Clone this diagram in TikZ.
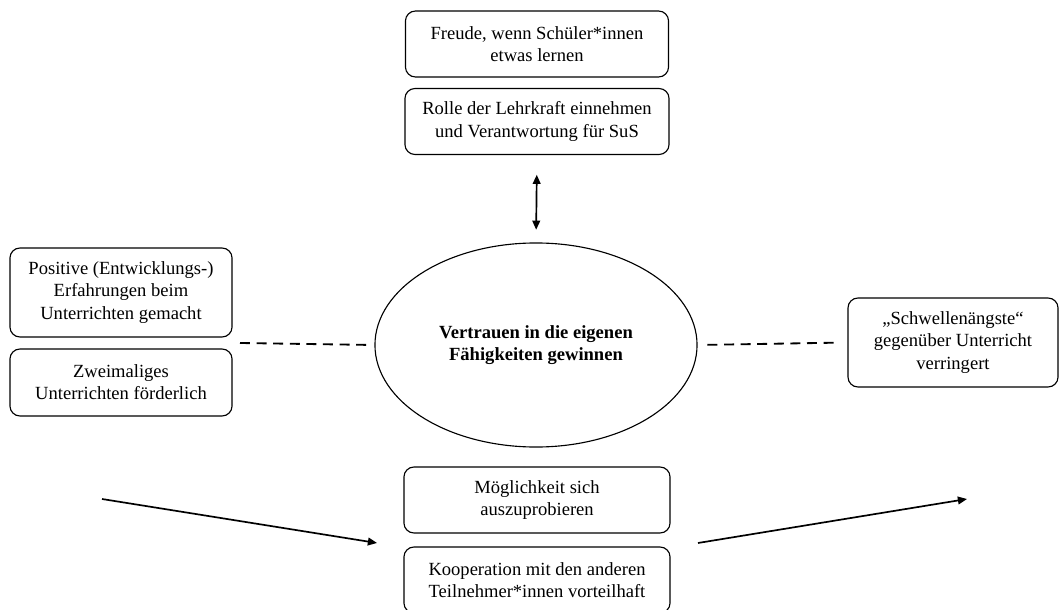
\documentclass[tikz,border=0pt]{standalone}
\usepackage{fontspec}
\setmainfont{Liberation Serif}
\usetikzlibrary{arrows.meta}
\usetikzlibrary{shapes.geometric}

\begin{document}
\begin{tikzpicture}[x=0.025cm,y=-0.025cm,
  font=\fontsize{13.2}{15.8}\selectfont,
  kasten/.style={draw, rounded corners=0.25cm, align=center, line width=0.8pt, inner sep=0pt},
  kern/.style={draw, ellipse, align=center, line width=0.8pt, minimum width=8.05cm, minimum height=5.1cm, inner sep=0pt, font=\fontsize{13.2}{15.8}\selectfont\bfseries},
  strich/.style={dash pattern=on 7.1pt off 4.7pt, line width=1.3pt},
  pfeil/.style={-{Triangle[length=6.5pt,width=5.5pt]}, line width=1.2pt}]

\useasboundingbox (0,0) rectangle (1060,610);

% oben
\node[kasten, minimum width=6.575cm, minimum height=1.65cm] (freude) at (537,44) {Freude, wenn Schüler*innen\\etwas lernen};
\node[kasten, minimum width=6.6cm, minimum height=1.65cm] (rolle) at (537,121.5) {Rolle der Lehrkraft einnehmen\\und Verantwortung für SuS};

% mitte
\node[kern] (vertrauen) at (536,345) {Vertrauen in die eigenen\\Fähigkeiten gewinnen};

% links
\node[kasten, minimum width=5.55cm, minimum height=2.225cm] (positiv) at (121,292.5) {Positive (Entwicklungs-)\\Erfahrungen beim\\Unterrichten gemacht};
\node[kasten, minimum width=5.55cm, minimum height=1.675cm] (zweimal) at (121,382.5) {Zweimaliges\\Unterrichten förderlich};
\coordinate (lspalt) at (240,343);

% rechts
\node[kasten, minimum width=5.25cm, minimum height=2.225cm] (schwelle) at (953,342.5) {„Schwellenängste“\\gegenüber Unterricht\\verringert};

% unten
\node[kasten, minimum width=6.65cm, minimum height=1.65cm] (moeglich) at (537,500) {Möglichkeit sich\\auszuprobieren};
\node[kasten, minimum width=6.65cm, minimum height=1.65cm] (koop) at (537,580) {Kooperation mit den anderen\\Teilnehmer*innen vorteilhaft};
\coordinate (lstart) at (102,499);
\coordinate (lende) at (377,543);
\coordinate (rstart) at (698,543);
\coordinate (rende) at (967,499);

\draw[{Triangle[length=6.5pt,width=5.5pt]}-{Triangle[length=6.5pt,width=5.5pt]}, line width=1.2pt, shorten <=14pt, shorten >=9pt] (rolle.south) -- (vertrauen.north);
\draw[strich, shorten >=1.5pt] (lspalt) -- (vertrauen.west);
\draw[strich, shorten <=7pt, shorten >=6pt] (vertrauen.east) -- (schwelle.west);
\draw[pfeil] (lstart) -- (lende);
\draw[pfeil] (rstart) -- (rende);

\end{tikzpicture}
\end{document}
